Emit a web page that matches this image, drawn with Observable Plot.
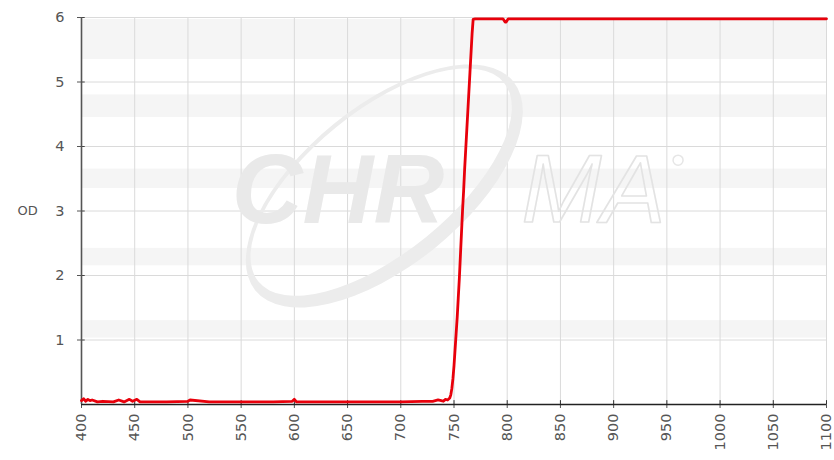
<!DOCTYPE html>
<html>
<head>
<meta charset="utf-8">
<script src="https://cdn.jsdelivr.net/npm/d3@7"></script>
<script src="https://cdn.jsdelivr.net/npm/@observablehq/plot@0.6"></script>
<style>
  html, body { margin: 0; padding: 0; background: #fff; }
  #chart svg { display: block; }
</style>
</head>
<body>
<div id="chart"></div>
<script>
// Wavelength (nm) and optical density readings
const wavelength = [400,402,404,406,408,410,415,420,430,435,440,445,448,452,455,460,480,500,502,520,550,580,598,600,602,620,650,680,700,720,730,735,738,740,742,744,746,747,748,749,750,751,752,753,754,755,756,757,758,759,760,761,762,763,764,765,766,767,768,770,780,796,798,799,801,820,850,900,950,1000,1050,1100];
const od        = [0.06,0.09,0.05,0.08,0.06,0.07,0.04,0.05,0.04,0.07,0.04,0.08,0.05,0.08,0.04,0.04,0.04,0.05,0.07,0.04,0.04,0.04,0.05,0.08,0.04,0.04,0.04,0.04,0.04,0.05,0.05,0.07,0.06,0.05,0.08,0.07,0.10,0.15,0.25,0.40,0.60,0.85,1.10,1.35,1.65,1.95,2.30,2.65,3.00,3.30,3.65,3.95,4.25,4.55,4.85,5.15,5.45,5.75,5.97,5.98,5.98,5.98,5.93,5.93,5.98,5.98,5.98,5.98,5.98,5.98,5.98,5.98];

const xTicks = [400,450,500,550,600,650,700,750,800,850,900,950,1000,1050,1100];
const yTicks = [1,2,3,4,5,6];

// faint horizontal background bands (OD units)
const bandLow  = [1.03, 2.15, 3.35, 4.45, 5.35];
const bandHigh = [1.30, 2.42, 3.65, 4.80, 5.97];

// watermark words
const watermarkWords = ["CHR", "MA"];
const watermarkWl    = [641, 881];
const watermarkOd    = [3.3, 3.3];

const data = wavelength.map((w, i) => ({wl: w, od: od[i]}));
const bands = bandLow.map((lo, i) => ({lo, hi: bandHigh[i], x1: 400, x2: 1100}));
const words = watermarkWords.map((t, i) => ({t, wl: watermarkWl[i], od: watermarkOd[i]}));

// watermark swoosh (crescent ellipse) and registered sign
const swoosh = (index, scales) => {
  const g = d3.create("svg:g");
  const cx = scales.x(685), cy = scales.y(3.38);
  const ell = (rx, ry, oy) => `M${-rx},${oy}A${rx},${ry} 0 1,0 ${rx},${oy}A${rx},${ry} 0 1,0 ${-rx},${oy}Z`;
  g.append("path")
    .attr("transform", `translate(${cx},${cy}) rotate(-39)`)
    .attr("d", ell(166, 80, 0) + ell(158, 71, -5))
    .attr("fill-rule", "evenodd")
    .attr("fill", "#ececec");
  g.append("circle")
    .attr("cx", scales.x(961)).attr("cy", scales.y(3.78)).attr("r", 5)
    .attr("fill", "none").attr("stroke", "#e6e6e6").attr("stroke-width", 1.5);
  return g.node();
};

const chart = Plot.plot({
  width: 834,
  height: 460,
  marginLeft: 81,
  marginRight: 8,
  marginTop: 17,
  marginBottom: 56,
  style: {fontFamily: "DejaVu Sans, Verdana, sans-serif", fontSize: "14.5px", color: "#555", background: "#fff"},
  x: {type: "linear", domain: [400, 1100], ticks: xTicks},
  y: {type: "linear", domain: [0, 6], ticks: yTicks},
  marks: [
    Plot.rectY(bands, {x1: "x1", x2: "x2", y1: "lo", y2: "hi", fill: "#f5f5f5"}),
    Plot.gridX(xTicks, {stroke: "#dadada", strokeOpacity: 1}),
    Plot.gridY(yTicks, {stroke: "#dadada", strokeOpacity: 1}),
    swoosh,
    Plot.text(words.slice(0, 1), {x: "wl", y: "od", text: "t", fontFamily: "Liberation Sans, Arial, sans-serif",
      fontSize: 98, fontWeight: "bold", fontStyle: "italic", fill: "#e9e9e9"}),
    Plot.text(words.slice(1), {x: "wl", y: "od", text: "t", fontFamily: "Liberation Sans, Arial, sans-serif",
      fontSize: 96, fontStyle: "italic", fill: "none", stroke: "#e3e3e3", strokeWidth: 1.6}),
    Plot.axisX({ticks: xTicks, tickRotate: -90, tickSize: 4, tickPadding: 5, label: null, fill: "#555", tickFormat: d => String(d)}),
    Plot.axisY({ticks: yTicks, tickSize: 4, tickPadding: 13, label: null, fill: "#555", tickFormat: d => String(d)}),
    Plot.ruleY(yTicks, {x1: 400, x2: 403.5, stroke: "#444"}),
    Plot.ruleX(xTicks, {y1: 0, y2: 0.06, stroke: "#333"}),
    Plot.ruleY([0], {stroke: "#222", strokeWidth: 1.3}),
    Plot.ruleX([400], {stroke: "#555", strokeWidth: 1.6}),
    Plot.line(data, {x: "wl", y: "od", stroke: "#e8000b", strokeWidth: 2.8, curve: "linear"}),
    Plot.text(["OD"], {frameAnchor: "left", dx: -64, fill: "#555", fontSize: 13})
  ]
});
document.getElementById("chart").appendChild(chart);
</script>
</body>
</html>
